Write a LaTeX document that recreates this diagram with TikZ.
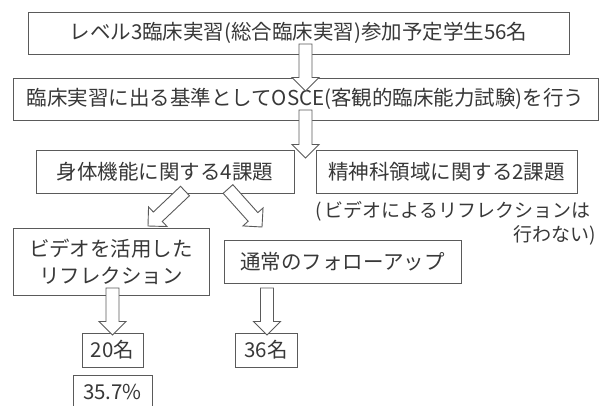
\documentclass[tikz,border=0pt]{standalone}
\usepackage{fontspec}
\setmainfont{Noto Sans CJK JP}
\usetikzlibrary{calc}
\definecolor{edge}{HTML}{5A5A5A}
\definecolor{ink}{HTML}{383838}
\tikzset{
  box/.style={draw=edge, line width=1pt, fill=white, inner sep=0pt, text=ink,
    font=\fontsize{20.5}{27}\selectfont, align=center},
  note/.style={inner sep=0pt, text=ink, font=\fontsize{19}{27}\selectfont},
  blockarrowline/.style={draw=edge, line width=0.9pt, fill=white, line join=miter}
}
\newcommand{\blockarrow}[2]{%
  \path ($(#2)!13.5pt!(#1)$) coordinate (bab);
  \draw[blockarrowline] ($(#1)!6.5pt!90:(#2)$) -- ($(bab)!6.5pt!90:(#2)$)
    -- ($(bab)!13.5pt!90:(#2)$) -- (#2) -- ($(bab)!13.5pt!-90:(#2)$)
    -- ($(bab)!6.5pt!-90:(#2)$) -- ($(#1)!6.5pt!-90:(#2)$) -- cycle;}
\begin{document}
\begin{tikzpicture}[x=1pt,y=-1pt]
\useasboundingbox (0,0) rectangle (603,405);
\clip (0,0) rectangle (603,405);
% boxes
\node[box, minimum width=541pt, minimum height=42pt] (b1) at (298.5,33)
  {レベル3臨床実習(総合臨床実習)参加予定学生56名};
\node[box, minimum width=585pt, minimum height=42pt] (b2) at (305.5,99)
  {臨床実習に出る基準としてOSCE(客観的臨床能力試験)を行う};
\node[box, minimum width=258pt, minimum height=43pt] (b3) at (165,171.5)
  {身体機能に関する4課題};
\node[box, minimum width=261pt, minimum height=43pt] (b4) at (446.5,171.5)
  {精神科領域に関する2課題};
\node[note, anchor=west] (n1) at (315,211) {(\hspace{3pt}ビデオによるリフレクションは};
\node[note, anchor=east] (n2) at (596,235) {行わない)};
\node[box, minimum width=196pt, minimum height=67pt] (b5) at (111,261.5)
  {ビデオを活用した\\リフレクション};
\node[box, minimum width=237pt, minimum height=43pt] (b6) at (342.5,261.5)
  {通常のフォローアップ};
\node[box, minimum width=61pt, minimum height=34pt] (b7) at (112.5,350) {20名};
\node[box, minimum width=62pt, minimum height=34pt] (b8) at (266,350) {36名};
\node[box, minimum width=79pt, minimum height=34pt] (b9) at (112.5,392) {35.7\%};
% arrow end points
\coordinate (a1s) at (305.5,44);  \coordinate (a1e) at (305.5,91);
\coordinate (a2s) at (305.5,110); \coordinate (a2e) at (305.5,158);
\coordinate (a3s) at (185,191);   \coordinate (a3e) at (148,226);
\coordinate (a4s) at (228,189);   \coordinate (a4e) at (262,227);
\coordinate (a5s) at (112.5,288); \coordinate (a5e) at (112.5,335);
\coordinate (a6s) at (267,288);   \coordinate (a6e) at (267,335);
\blockarrow{a1s}{a1e}
\blockarrow{a2s}{a2e}
\blockarrow{a3s}{a3e}
\blockarrow{a4s}{a4e}
\blockarrow{a5s}{a5e}
\blockarrow{a6s}{a6e}
\end{tikzpicture}
\end{document}
